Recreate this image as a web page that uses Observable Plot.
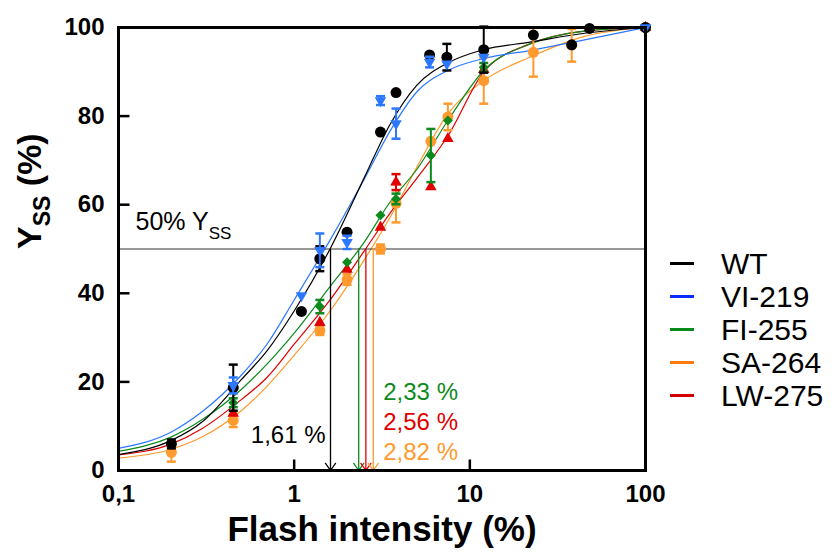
<!DOCTYPE html>
<html><head><meta charset="utf-8">
<script src="https://cdn.jsdelivr.net/npm/d3@7"></script>
<script src="https://cdn.jsdelivr.net/npm/@observablehq/plot@0.6"></script>
<style>
body{margin:0;background:#fff;font-family:Arial,"Liberation Sans",sans-serif;}
#wrap{position:relative;width:832px;height:552px;overflow:hidden;}
#legend{position:absolute;left:670px;top:247px;}
.row{display:flex;align-items:center;height:33px;}
.sw{width:24px;height:3px;margin-right:27px;}
.lab{font-size:30px;color:#000;line-height:33px;}
</style></head><body><div id="wrap"><div id="chart"></div><div id="legend"></div></div>
<script>
// ---------- data ----------
const seriesNames = ["WT", "VI-219", "FI-255", "SA-264", "LW-275"];

const wtX   = [0.2, 0.45, 1.1, 1.4, 2, 3.1, 3.8, 5.9, 7.4, 12, 23, 38, 48, 100];
const wtY   = [6, 18.7, 35.9, 47.8, 53.8, 76.4, 85.3, 93.8, 93.3, 95, 98.3, 96.1, 99.8, 100];
const wtErr = [1, 5.2, 0, 2.8, 0, 0, 0, 0, 3, 5.2, 0, 0, 0, 0];

const viX   = [0.45, 1.1, 1.4, 2, 3.1, 3.8, 5.9, 7.4, 12, 100];
const viY   = [19.2, 39.5, 49.7, 51.5, 83.5, 78.3, 92.2, 91.8, 93.3, 100];
const viErr = [1.8, 0, 3.8, 1.5, 1, 3.4, 1.2, 0, 0, 0];

const fiX   = [0.45, 1.4, 2, 3.1, 3.8, 6, 7.5, 12, 100];
const fiY   = [15.3, 37, 47, 57.6, 61.3, 71.1, 79, 91, 100];
const fiErr = [1, 1.5, 0, 0, 1.2, 6, 0, 1, 0];

const saX   = [0.2, 0.45, 1.4, 2, 3.1, 3.8, 6, 7.5, 12, 23, 38, 100];
const saY   = [4.1, 11.3, 31.6, 43.1, 50, 60.3, 74.3, 79.8, 88, 94.4, 96, 100];
const saErr = [2.1, 1.5, 1, 1.2, 1, 4.3, 0, 3, 5.2, 5.5, 3.7, 0];

const lwX   = [0.45, 1.4, 2, 3.1, 3.8, 6, 7.5, 12, 100];
const lwY   = [12.9, 33.4, 45.4, 54.9, 65.1, 64, 74.9, 90.5, 100];
const lwErr = [0, 0, 0, 0, 1.8, 0, 0, 0, 0];

// fitted curves
const curveX = [0.1, 0.2, 0.3, 0.5, 0.7, 1, 1.6, 2.5, 3.5, 5, 7.5, 12, 22, 45, 100];
const wtFit = [3.6, 6.8, 11, 20.5, 27, 36, 50, 66, 78, 87, 92, 95, 96.7, 98.7, 100];
const viFit = [5, 8.7, 13.3, 21.5, 28.5, 38.5, 52, 65.7, 76.5, 85.5, 90.3, 93, 94.8, 97.2, 100];
const fiFit = [4.3, 7.6, 11.5, 18.3, 24, 31, 41.5, 51.5, 60.5, 68, 79, 90.3, 96.3, 99.2, 100];
const saFit = [2.8, 4.8, 7.6, 13.5, 19, 26, 36, 47.5, 57, 68.5, 80.5, 88, 93.3, 98, 100];
const lwFit = [3.5, 6, 9.5, 16, 21, 28.5, 38.5, 49.5, 58, 66, 75.5, 90, 96.3, 99.2, 100];

const halfLevel = [50];
const halfLabel = "50% Y";
const halfSub = "SS";

const ec50Values = [1.61, 2.33, 2.56, 2.82];
const ec50Labels = ["1,61 %", "2,33 %", "2,56 %", "2,82 %"];

const xTicks = [0.1, 1, 10, 100];
const xTickLabels = ["0,1", "1", "10", "100"];
const yTicks = [0, 20, 40, 60, 80, 100];
const xTitle = "Flash intensity (%)";

// ---------- style ----------
const chartColors  = ["#000000", "#2b78ff", "#0c8a1c", "#ff9a2e", "#e00000"];
const legendColors = ["#000000", "#0a2cff", "#0a8a1a", "#ff7a10", "#d40000"];
const ec50Colors   = ["#000000", "#0c8a1c", "#e00000", "#ff9a2e"];

const series = [
  {x: wtX, y: wtY, err: wtErr, fit: wtFit, symbol: "circle",   r: 5.5, rotate: 0},
  {x: viX, y: viY, err: viErr, fit: viFit, symbol: "triangle", r: 4.3, rotate: 180},
  {x: fiX, y: fiY, err: fiErr, fit: fiFit, symbol: "square",   r: 4,   rotate: 45},
  {x: saX, y: saY, err: saErr, fit: saFit, symbol: "circle",   r: 5.5, rotate: 0},
  {x: lwX, y: lwY, err: lwErr, fit: lwFit, symbol: "triangle", r: 4.3, rotate: 0}
].map((s, i) => ({
  ...s,
  name: seriesNames[i],
  color: chartColors[i],
  rows: s.x.map((x, j) => ({x, y: s.y[j], err: s.err[j]})),
  fitRows: curveX.map((x, j) => ({x, y: s.fit[j]}))
}));

const capSym   = {draw(ctx) { ctx.moveTo(-4.5, 0); ctx.lineTo(4.5, 0); }};
const tickRight = {draw(ctx) { ctx.moveTo(0, 0); ctx.lineTo(11, 0); }};
const tickUp    = {draw(ctx) { ctx.moveTo(0, 0); ctx.lineTo(0, -11); }};

const drawOrder = [3, 4, 2, 0, 1];
const font = "Arial, 'Liberation Sans', sans-serif";

const marks = [];
// curves
for (const i of [3, 4, 2, 1, 0]) {
  const s = series[i];
  marks.push(Plot.line(s.fitRows, {x: "x", y: "y", stroke: s.color, strokeWidth: 1.2, curve: "monotone-x"}));
}
// 50 % line
marks.push(Plot.ruleY(halfLevel, {stroke: "#333", strokeWidth: 1.2}));
// arrows
ec50Values.forEach((v, i) => {
  marks.push(Plot.arrow([v], {x1: d => d, x2: d => d, y1: () => halfLevel[0], y2: () => 0,
    stroke: ec50Colors[i], strokeWidth: 1.3, headLength: 10, headAngle: 70}));
});
// points
for (const i of drawOrder) {
  const s = series[i];
  const e = s.rows.filter(d => d.err > 0);
  marks.push(Plot.ruleX(e, {x: "x", y1: d => d.y - d.err, y2: d => d.y + d.err, stroke: s.color, strokeWidth: 2}));
  marks.push(Plot.dot(e, {x: "x", y: d => d.y + d.err, symbol: capSym, stroke: s.color, strokeWidth: 2.5, fill: "none"}));
  marks.push(Plot.dot(e, {x: "x", y: d => d.y - d.err, symbol: capSym, stroke: s.color, strokeWidth: 2.5, fill: "none"}));
  marks.push(Plot.dot(s.rows, {x: "x", y: "y", symbol: s.symbol, r: s.r, rotate: s.rotate, fill: s.color, stroke: "none"}));
}
// frame and inward ticks
marks.push(Plot.frame({stroke: "#000", strokeWidth: 3}));
marks.push(Plot.dot(yTicks.filter(d => d > 0 && d < 100), {y: d => d, frameAnchor: "left", symbol: tickRight, stroke: "#000", strokeWidth: 2.5, fill: "none"}));
marks.push(Plot.dot(xTicks.filter(d => d > 0.1 && d < 100), {x: d => d, frameAnchor: "bottom", symbol: tickUp, stroke: "#000", strokeWidth: 2.5, fill: "none"}));
// axes labels
marks.push(Plot.axisY(yTicks, {anchor: "left", tickSize: 0, tickPadding: 14, fontSize: 24, fontWeight: "bold", label: null, tickFormat: d => String(d)}));
marks.push(Plot.axisX(xTicks, {anchor: "bottom", tickSize: 0, tickPadding: 14, fontSize: 24, fontWeight: "bold", label: null, tickFormat: d => xTickLabels[xTicks.indexOf(d)]}));
marks.push(Plot.text([xTitle], {text: d => d, frameAnchor: "bottom", dy: 70, fontSize: 35, fontWeight: "bold"}));
marks.push(Plot.text(["__YTITLE__"], {text: d => d, frameAnchor: "left", dx: -88, rotate: -90, fontSize: 34, fontWeight: "bold"}));
marks.push(Plot.text(["__HALF__"], {text: d => d, frameAnchor: "left", y: () => halfLevel[0], dx: 17, dy: -27, textAnchor: "start", fontSize: 25}));
// EC50 labels
marks.push(Plot.text([ec50Labels[0]], {text: d => d, x: () => ec50Values[0], frameAnchor: "bottom", dx: -5, dy: -28, textAnchor: "end", fontSize: 24, fill: ec50Colors[0]}));
for (let i = 1; i < ec50Values.length; i++) {
  marks.push(Plot.text([ec50Labels[i]], {text: d => d, x: () => d3.max(ec50Values), frameAnchor: "bottom",
    dx: 10, dy: -71 + 30 * (i - 1), textAnchor: "start", fontSize: 24, fill: ec50Colors[i]}));
}

const chart = Plot.plot({
  width: 832, height: 552,
  marginLeft: 118, marginRight: 187, marginTop: 27, marginBottom: 82,
  x: {type: "log", domain: [xTicks[0], xTicks[xTicks.length - 1]], axis: null},
  y: {domain: [yTicks[0], yTicks[yTicks.length - 1]], axis: null},
  style: {fontFamily: font, background: "white", overflow: "visible", color: "#000"},
  marks
});
document.getElementById("chart").appendChild(chart);

// subscripts
d3.select(chart).selectAll("text").each(function () {
  const t = this.textContent;
  if (t === "__YTITLE__") {
    this.textContent = "";
    const s = d3.select(this);
    s.append("tspan").text("Y");
    s.append("tspan").attr("dy", 9).attr("font-size", 23).text(halfSub);
    s.append("tspan").attr("dy", -9).text(" (%)");
  } else if (t === "__HALF__") {
    this.textContent = "";
    const s = d3.select(this);
    s.append("tspan").text(halfLabel);
    s.append("tspan").attr("dy", 9).attr("font-size", 17).text(halfSub);
  }
});

// legend
const legend = d3.select("#legend");
seriesNames.forEach((n, i) => {
  const row = legend.append("div").attr("class", "row");
  row.append("div").attr("class", "sw").style("background", legendColors[i]);
  row.append("div").attr("class", "lab").text(n);
});
</script></body></html>
